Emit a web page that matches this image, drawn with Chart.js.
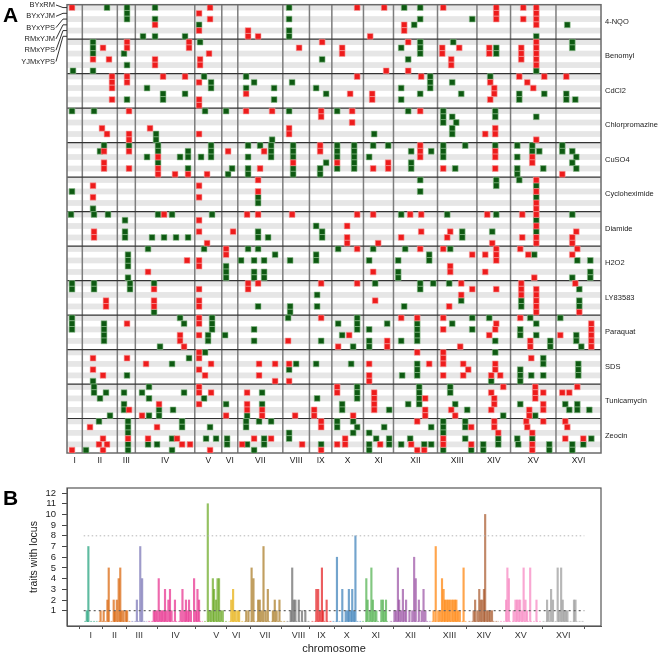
<!DOCTYPE html>
<html>
<head>
<meta charset="utf-8">
<script src="https://cdn.jsdelivr.net/npm/chart.js@4.4.1/dist/chart.umd.min.js"></script>
<style>
  body { margin: 0; background: #fff; }
  #wrap { position: relative; width: 661px; height: 656px; }
  canvas { position: absolute; left: 0; }
  #chartA { top: 0; }
  #chartB { top: 470px; }
</style>
</head>
<body>
<div id="wrap">
  <canvas id="chartA" width="661" height="470"></canvas>
  <canvas id="chartB" width="661" height="186"></canvas>
</div>
<script>
// chromosomes, positions on a common genome axis (0..534)
const chromNames = ['I','II','III','IV','V','VI','VII','VIII','IX','X','XI','XII','XIII','XIV','XV','XVI'];
const chromBounds = [0, 15.3, 50.3, 68.3, 127.7, 154.7, 170.7, 215.7, 242.3, 264.7, 296.3, 326.3, 370.3, 409.7, 443.3, 488.7, 533.7];
const genomeMax = 533.7;

const traitNames = ['4-NQO','Benomyl','CdCl2','Chlorpromazine','CuSO4','Cycloheximide','Diamide','H2O2','LY83583','Paraquat','SDS','Tunicamycin','Zeocin'];
const crossNames = ['BYxRM','BYxYJM','BYxYPS','RMxYJM','RMxYPS','YJMxYPS'];

// one line per cross: [red loci, green loci]
const lociNQO = [
  [[5,143,290,317,376,429,456,469],[40,60,88,222,337,353]],
  [[132,429,469],[60]],
  [[143,429,456,469],[60,88,222,353,405]],
  [[88,337,469],[132,347,500]],
  [[132,181,337],[222]],
  [[181,191,303],[76,88,118,222,469]]
];
const lociBenomyl = [
  [[60,122,255,341,469],[26,133,353,386,505]],
  [[36,60,122,232,275,375,392,422,454,469],[26,334,353,429,505]],
  [[142,275,375,422,454,469],[26,57,353,429]],
  [[26,42,88,133,384,454,469],[255,341]],
  [[88,133,384,469],[60]],
  [[319,341],[6,26,469]]
];
const lociCdCl2 = [
  [[45,60,96,118,290,354,452,477,499],[137,179,363,423]],
  [[45,60,132,423,460],[144,187,225,363,385]],
  [[45,427,466],[80,144,179,207,249,334,363]],
  [[179,283,305,427],[96,118,259,353,394,452,477,499]],
  [[45,132,305,423],[60,96,207,334,452,499,508]],
  [[132],[]]
];
const lociChlorpromazine = [
  [[62,179,205,254,285,353],[5,27,138,159,222,270,341,376,428]],
  [[254],[376,385,428,469]],
  [[285],[376,389]],
  [[35,83,222,428],[385]],
  [[40,62,132,222,418,428],[89,307,385]],
  [[62,469],[89,205]]
];
const lociCuSO4 = [
  [[253,353],[37,62,91,144,181,193,204,226,270,287,306,321,376,398,428,450,465,495]],
  [[37,62,161,197,253,353,428],[33,91,121,144,204,226,270,287,344,364,376,465,472,495,505]],
  [[91,353,428,465],[80,113,121,134,144,181,204,226,270,287,302,376,450,509]],
  [[37,226,270,321,465],[91,259,287,344,505]],
  [[37,62,91,193,306,321,376,428],[121,165,181,226,253,270,287,344,388,450,476,509]],
  [[91,108,121,140,495],[161,181,226,253,450]]
];
const lociCycloheximide = [
  [[191,469],[353,429,452]],
  [[26,132],[429,469]],
  [[191,469],[5,353]],
  [[26,132],[191,469]],
  [[469],[191]],
  [[469],[26]]
];
const lociDiamide = [
  [[97,180,191,225,290,306,343,354,420,455,469],[4,27,41,91,105,145,334,380,429,505]],
  [[132],[58,469]],
  [[280,469],[249]],
  [[27,132,166,354,383,509],[58,191,255,395,425,469]],
  [[27,280,334,380,455,469,505],[58,85,97,109,121,191,201,255,395]],
  [[140,280,311,425,469,505],[]]
];
const lociH2O2 = [
  [[159,290,353,376,429,453,510],[81,137,181,191,271,306,338,383]],
  [[159,405,418,429,461,505],[61,208,249,362,467]],
  [[120,132,429],[61,174,187,197,223,249,302,331,362,510,523]],
  [[132,383],[61,159]],
  [[81,306,383,418],[159,187,197,331,523]],
  [[467],[61,159,187,197,331,505,523]]
];
const lociLY83583 = [
  [[181,191,254,290,394,454,508],[5,27,63,87,308,353,366,382]],
  [[87,132,181,405,429,454,469],[5,27,63,353,512]],
  [[394,454,469],[250]],
  [[39,87,132,308,469],[394,454,512]],
  [[39,87,132,382,469],[191,223,250,337,454,512]],
  [[469,512],[87,223]]
];
const lociParaquat = [
  [[132,254,334,350,376,453],[5,113,145,221,290,405,422,463,493]],
  [[60,132,429,524],[5,37,117,145,271,290,320,350,385,469]],
  [[376,428,524],[5,37,145,187,290,302,350,405,453]],
  [[113,132,282,422,493,524],[37,141,158,275,350,453,469,509]],
  [[113,221,320,463,524],[37,141,187,254,302,334,350,428,483,509]],
  [[117,271,320,393,463,524],[93,286,302,483,514]]
];
const lociSDS = [
  [[132,350,376],[138,428]],
  [[26,60,132,376,464],[122,476]],
  [[79,144,192,208,222,302,362,376,396,428],[105,229,249,284,350,476,511]],
  [[26,132,401,428],[222,350,453,511]],
  [[36,138,192,302,376,396,424,433],[60,335,350,453,464,476,511]],
  [[208,222,302],[26,424,453]]
];
const lociTunicamycin = [
  [[132,270,436,468,510],[27,82,290,352,383]],
  [[132,144,180,270,307,424,468,476,495,502],[27,39,57,75,117,195,290,352,383]],
  [[307,358,427,468],[33,82,137,250,290,352]],
  [[92,132,180,307,427,476],[57,159,195,275,341,352,388,453,498,510]],
  [[62,180,195,247,307,358,384,424,462,476],[57,92,106,275,322,400,502,510,522]],
  [[75,159,195,228,247,286,358,388,462],[43,82,92,180,436,468]]
];
const lociZeocin = [
  [[254,350,427,459,476,498],[32,61,115,179,192,204,270,286,376,398]],
  [[23,90,254,404,427,460,500],[61,115,143,179,270,290,317,364,376,398]],
  [[431,465],[61,222,286,302,376]],
  [[36,61,81,110,187,204,278,376,498,516],[105,139,149,160,197,222,309,322,343,398,431,450,465,524]],
  [[32,40,115,123,175,235,270,278,313,344,376,404,465],[61,81,90,160,180,197,254,302,322,334,357,364,416,431,451,482,505,516]],
  [[5,36,143,254,350,357,465],[19,61,105,187,302,376,404,416,482,505]]
];
const allLoci = [lociNQO, lociBenomyl, lociCdCl2, lociChlorpromazine, lociCuSO4, lociCycloheximide,
  lociDiamide, lociH2O2, lociLY83583, lociParaquat, lociSDS, lociTunicamycin, lociZeocin];

// panel B: locus position and number of traits with that locus
const locusPos = [3.3,5, 18,21.3,25.3,26.7,32,33.3,35.3,37.3,39,40.3,42.3,44.7,46.3, 56.7,60.3,62.3,
  74.7,76.3,78,80,81.7,83.3,85,86.7,88.3,90.3,92,93.7,97.3,103.3,105.3,107.3,109,110.7,112.3,114.3,117.7,119.7,121.3,123,
  132.3,134,135.7,137.7,139,141,142.7,144.3,146.3,148.3, 157.3,159.3,161.3,163.7,165.7,
  173.3,175.7,179,181,186,187.7,189.7,191.7,194,196.3,201.7,203.7,205.7,208.7,
  220.7,222.3,224,225.7,229.3,232.7,236.3, 248,250,252,254,255.3,259,
  270,275.7,279.3,281.3,282.7,284.7,286.3,288,289.7,
  301.3,302.7,305,306.7,308.3,310.3,312,317.3,319,320.7,322.3,
  331.3,333,335,336.3,338.3,340.3,342,343.7,347.3,350.3,352.3,354,357.3,360.3,362.3,364.3,
  373,375.3,378,380,382,383.7,385.3,387,388.7,390.3,392.3,394,395.7,397.3,399,401,405,
  415.7,417.3,419.7,421.7,423.3,425,426.7,428,430,431.7,433.3,435.3,
  450.3,451.7,453.3,458.3,460.3,462,463.7,465.3,467.3,469,471,472.7,476,482.7,
  494,495.7,498.3,500.3,505.3,507,509,510.7,512.3,514,515.7,522.7,524.3];
const traitCount = [1,7, 1,1,2,5,2,1,2,4,5,1,1,1,1, 2,7,4,
  1,1,1,4,1,1,1,3,1,2,3,1,2,1,3,1,2,1,2,1,4,1,3,2,
  11,1,1,4,3,2,4,4,1,1, 2,3,1,1,1,
  1,1,5,4,2,2,1,7,1,3,1,2,1,2,
  1,5,2,2,2,1,1, 3,3,1,5,1,2,
  6,3,1,1,3,1,3,1,8,
  4,2,1,5,2,1,1,2,2,1,2,
  1,1,5,2,1,3,1,2,1,1,6,4,2,1,3,1,
  1,7,1,1,4,3,2,2,2,2,2,2,2,2,1,1,5,
  1,2,1,3,2,2,3,10,1,1,1,1,
  2,5,4,1,2,2,2,2,1,5,2,1,5,2,
  2,1,3,2,5,1,5,2,1,1,1,2,2];
const chromColors = ['#1b9e77','#d95f02','#7570b3','#e7298a','#66a61e','#e6ab02','#a6761d','#666666',
  '#e41a1c','#377eb8','#4daf4a','#984ea3','#ff7f00','#a65628','#f781bf','#999999'];

const FONT = '"Liberation Sans", Arial, sans-serif';
Chart.defaults.font.family = FONT;
Chart.defaults.color = '#222';

function chromOf(pos) {
  for (let i = 0; i < chromNames.length; i++) {
    if (pos < chromBounds[i + 1]) return i;
  }
  return chromNames.length - 1;
}
function withAlpha(hex, a) {
  const n = parseInt(hex.slice(1), 16);
  return `rgba(${(n >> 16) & 255}, ${(n >> 8) & 255}, ${n & 255}, ${a})`;
}
const chromCenters = chromNames.map((c, i) => (chromBounds[i] + chromBounds[i + 1]) / 2);

/********* panel A *********/
const redPts = [], greenPts = [];
allLoci.forEach((trait, t) => {
  trait.forEach((row, c) => {
    const y = t * 6 + c + 0.5;
    row[0].forEach(x => redPts.push({ x: x, y: y }));
    row[1].forEach(x => greenPts.push({ x: x, y: y }));
  });
});

const gridPluginA = {
  id: 'gridA',
  beforeDatasetsDraw(chart) {
    const { ctx, chartArea: a, scales: { x, y } } = chart;
    ctx.save();
    // stripes
    ctx.fillStyle = '#e6e6e6';
    for (let t = 0; t < traitNames.length; t++) {
      for (let r = 0; r < 6; r += 2) {
        const y0 = y.getPixelForValue(t * 6 + r);
        const y1 = y.getPixelForValue(t * 6 + r + 1);
        ctx.fillRect(a.left, y0, a.right - a.left, y1 - y0);
      }
    }
    // chromosome boundaries
    ctx.strokeStyle = '#7d7d7d';
    ctx.lineWidth = 1.5;
    for (let i = 1; i < chromBounds.length - 1; i++) {
      const px = x.getPixelForValue(chromBounds[i]);
      ctx.beginPath(); ctx.moveTo(px, a.top); ctx.lineTo(px, a.bottom); ctx.stroke();
    }
    // trait boundaries
    ctx.strokeStyle = '#333';
    ctx.lineWidth = 1.2;
    for (let t = 1; t < traitNames.length; t++) {
      const py = y.getPixelForValue(t * 6);
      ctx.beginPath(); ctx.moveTo(a.left, py); ctx.lineTo(a.right, py); ctx.stroke();
    }
    ctx.strokeStyle = '#6a6a6a';
    ctx.lineWidth = 1.5;
    ctx.strokeRect(a.left, a.top, a.right - a.left, a.bottom - a.top);
    ctx.restore();
  },
  afterDraw(chart) {
    const { ctx, chartArea: a, scales: { x, y } } = chart;
    ctx.save();
    ctx.fillStyle = '#222';
    // trait names
    ctx.font = '7.5px ' + FONT;
    ctx.textAlign = 'left';
    ctx.textBaseline = 'middle';
    traitNames.forEach((n, t) => {
      ctx.fillText(n, a.right + 4, y.getPixelForValue(t * 6 + 3));
    });
    // cross labels with leader lines
    ctx.textAlign = 'right';
    ctx.strokeStyle = '#333';
    ctx.lineWidth = 1;
    crossNames.forEach((n, c) => {
      const ly = 5 + c * 11.3;
      const ry = y.getPixelForValue(c + 0.5);
      ctx.fillText(n, a.left - 12, ly);
      ctx.beginPath();
      ctx.moveTo(a.left - 11, ly);
      ctx.lineTo(a.left - 4, ry);
      ctx.lineTo(a.left, ry);
      ctx.stroke();
    });
    // chromosome names
    ctx.font = '8.5px ' + FONT;
    ctx.textAlign = 'center';
    chromNames.forEach((n, i) => {
      ctx.fillText(n, x.getPixelForValue(chromCenters[i]), a.bottom + 8);
    });
    // panel letter
    ctx.font = 'bold 21px ' + FONT;
    ctx.textAlign = 'left';
    ctx.textBaseline = 'alphabetic';
    ctx.fillStyle = '#000';
    ctx.fillText('A', 3, 22);
    ctx.restore();
  }
};

new Chart(document.getElementById('chartA'), {
  type: 'scatter',
  data: {
    datasets: [
      { data: redPts, backgroundColor: '#ee1c1c', borderColor: '#f7a0a0', borderWidth: 0.6, pointStyle: 'rect', pointRadius: 4.1 },
      { data: greenPts, backgroundColor: '#0e5a12', borderColor: '#8fbf8f', borderWidth: 0.6, pointStyle: 'rect', pointRadius: 4.1 }
    ]
  },
  options: {
    responsive: false,
    animation: false,
    events: [],
    layout: { padding: { left: 67, right: 60, top: 3, bottom: 17 } },
    scales: {
      x: { type: 'linear', min: 0, max: genomeMax, display: false },
      y: { type: 'linear', min: 0, max: traitNames.length * 6, reverse: true, display: false }
    },
    plugins: { legend: { display: false }, tooltip: { enabled: false } }
  },
  plugins: [gridPluginA]
});

/********* panel B *********/
const barData = locusPos.map((p, i) => ({ x: p, y: traitCount[i] }));
const barColors = locusPos.map(p => withAlpha(chromColors[chromOf(p)], 0.7));

const baseSets = chromNames.map((n, i) => ({
  type: 'line',
  data: [{ x: chromBounds[i] + 0.5, y: 0 }, { x: chromBounds[i + 1] - 0.5, y: 0 }],
  borderColor: withAlpha(chromColors[i], 0.55),
  borderWidth: 1,
  borderDash: [2, 1],
  pointRadius: 0,
  order: 3
}));

const boxPluginB = {
  id: 'boxB',
  afterDraw(chart) {
    const { ctx, chartArea: a } = chart;
    ctx.save();
    ctx.strokeStyle = '#555';
    ctx.lineWidth = 1.2;
    ctx.strokeRect(a.left, a.top, a.right - a.left, a.bottom - a.top);
    ctx.font = 'bold 21px ' + FONT;
    ctx.fillStyle = '#000';
    ctx.fillText('B', 3, 35);
    ctx.restore();
  }
};

new Chart(document.getElementById('chartB'), {
  type: 'bar',
  data: {
    datasets: [
      {
        data: barData,
        backgroundColor: barColors,
        barThickness: 1.5,
        order: 2
      },
      {
        type: 'line',
        data: [{ x: 0, y: 1 }, { x: genomeMax, y: 1 }],
        borderColor: '#666',
        borderWidth: 1.3,
        borderDash: [2, 3],
        pointRadius: 0,
        order: 1
      },
      {
        type: 'line',
        data: [{ x: 0, y: 8 }, { x: genomeMax, y: 8 }],
        borderColor: '#b5b5b5',
        borderWidth: 1,
        borderDash: [1.5, 2.5],
        pointRadius: 0,
        order: 1
      },
      ...baseSets
    ]
  },
  options: {
    responsive: false,
    animation: false,
    events: [],
    layout: { padding: { left: 28, right: 60, top: 18, bottom: 0 } },
    scales: {
      x: {
        type: 'linear',
        min: 0,
        max: genomeMax,
        afterBuildTicks: (scale) => { scale.ticks = chromCenters.map(v => ({ value: v })); },
        afterFit: (scale) => { scale.height = 30; },
        ticks: {
          autoSkip: false,
          maxRotation: 0,
          padding: 1,
          font: { size: 9 },
          color: '#333',
          callback: (v, i) => chromNames[i]
        },
        grid: { drawOnChartArea: false, drawTicks: true, tickLength: 3, color: '#555' },
        border: { display: true, color: '#555' },
        title: { display: true, text: 'chromosome', font: { size: 11 }, padding: { top: 0, bottom: 0 }, color: '#222' }
      },
      y: {
        type: 'linear',
        min: -0.43,
        max: 12.47,
        afterBuildTicks: (scale) => {
          const t = [];
          for (let v = 1; v <= 12; v++) t.push({ value: v });
          scale.ticks = t;
        },
        afterFit: (scale) => { scale.width = 39; },
        ticks: { autoSkip: false, padding: 6, font: { size: 9.5 }, color: '#222' },
        grid: { drawOnChartArea: false, drawTicks: true, tickLength: 5, color: '#444' },
        border: { display: true, color: '#555' },
        title: { display: true, text: 'traits with locus', font: { size: 10.5 }, padding: { top: 0, bottom: 0 }, color: '#222' }
      }
    },
    plugins: { legend: { display: false }, tooltip: { enabled: false } }
  },
  plugins: [boxPluginB]
});
</script>
</body>
</html>
